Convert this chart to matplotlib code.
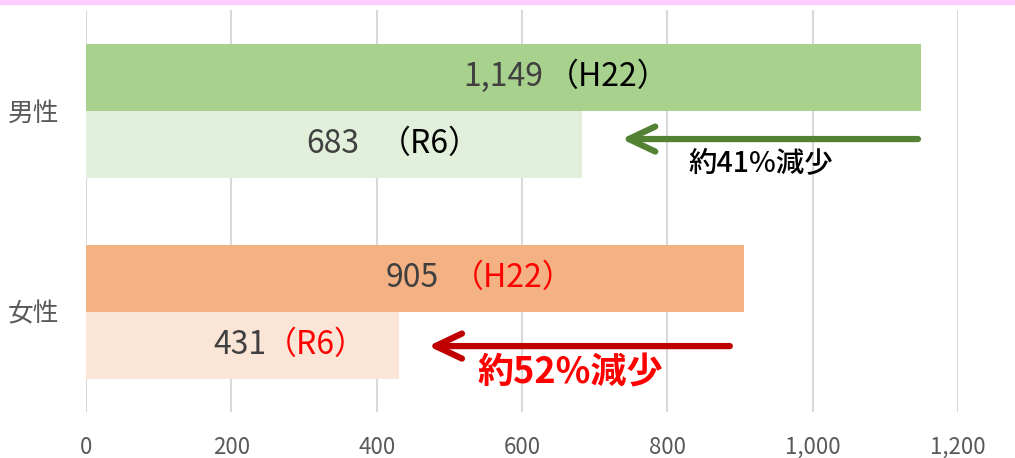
import matplotlib
matplotlib.use("Agg")
import matplotlib.pyplot as plt
from matplotlib.patches import Rectangle

plt.rcParams['font.family'] = ['Noto Sans CJK JP', 'DejaVu Sans']

# ---- data ----
categories = ["男性", "女性"]
h22_values = [1149, 905]
r6_values = [683, 431]
x_ticks = [0, 200, 400, 600, 800, 1000, 1200]
x_tick_labels = ["0", "200", "400", "600", "800", "1,000", "1,200"]
reduction_labels = ["約41%減少", "約52%減少"]

# ---- style ----
h22_colors = ["#A9D18E", "#F4B183"]
r6_colors = ["#E2EFDA", "#FBE5D6"]
paren_colors = ["#000000", "#FF0000"]
arrow_colors = ["#548235", "#C00000"]

fig = plt.figure(figsize=(10.15, 4.58), dpi=100)
fig.patches.append(Rectangle((0, 1 - 4 / 458), 1, 4 / 458, transform=fig.transFigure,
                             color="#FFCCFF", zorder=0))
ax = fig.add_axes([86 / 1015, 46 / 458, (958 - 86) / 1015, (412 - 10) / 458])

bar_h = 1 / 3
ypos = list(range(len(categories)))
for i in ypos:
    ax.barh(i - bar_h / 2, h22_values[i], height=bar_h, color=h22_colors[i], zorder=2)
    ax.barh(i + bar_h / 2, r6_values[i], height=bar_h, color=r6_colors[i], zorder=2)

ax.set_xlim(0, 1200)
ax.set_ylim(1.5, -0.5)
ax.set_xticks(x_ticks)
ax.set_xticklabels(x_tick_labels)
ax.set_yticks(ypos)
ax.set_yticklabels(categories)
ax.tick_params(axis='x', length=0, pad=17, labelsize=16, labelcolor="#595959")
ax.tick_params(axis='y', length=0, pad=19, labelsize=18.5, labelcolor="#595959")
for s in ax.spines.values():
    s.set_visible(False)
ax.grid(axis='x', color="#D9D9D9", linewidth=1.5, zorder=0)
ax.set_axisbelow(True)

px = 872 / 1200.0
def dx(p):
    return (p - 86) / px

# value labels: (number right edge px, paren start px) for each bar
num_fs = 23
label_specs = [
    (0, -bar_h / 2, "1,149", "（H22）", 543, 547, paren_colors[0]),
    (0, bar_h / 2, "683", "（R6）", 359, 379, paren_colors[0]),
    (1, -bar_h / 2, "905", "（H22）", 439, 452, paren_colors[1]),
    (1, bar_h / 2, "431", "（R6）", 266, 265, paren_colors[1]),
]
for i, off, num, par, nr, pl, pc in label_specs:
    y = i + off
    ax.text(dx(nr), y, num, ha='right', va='center', fontsize=num_fs, color="#404040", zorder=4)
    ax.text(dx(pl), y, par, ha='left', va='center', fontsize=num_fs, color=pc, zorder=4)

# reduction arrows
arrow_specs = [
    (0, 1145, 737, 0.142),
    (1, 886, 471, 0.172),
]
for i, x0, x1, yoff in arrow_specs:
    y = i + yoff
    ax.annotate("", xy=(x1, y), xytext=(x0, y),
                arrowprops=dict(arrowstyle="->,head_length=0.95,head_width=0.45",
                                mutation_scale=20, color=arrow_colors[i], lw=4.5,
                                shrinkA=0, shrinkB=0, capstyle='round', joinstyle='round'),
                zorder=5)

ax.text(dx(688), 0 + 0.261, reduction_labels[0], ha='left', va='center', fontsize=20.5,
        color="#000000", fontweight='medium', zorder=5)
ax.text(dx(477), 1 + 0.306, reduction_labels[1], ha='left', va='center', fontsize=26,
        color="#FF0000", fontweight='bold', zorder=5)

fig.savefig("out.png", dpi=100)
